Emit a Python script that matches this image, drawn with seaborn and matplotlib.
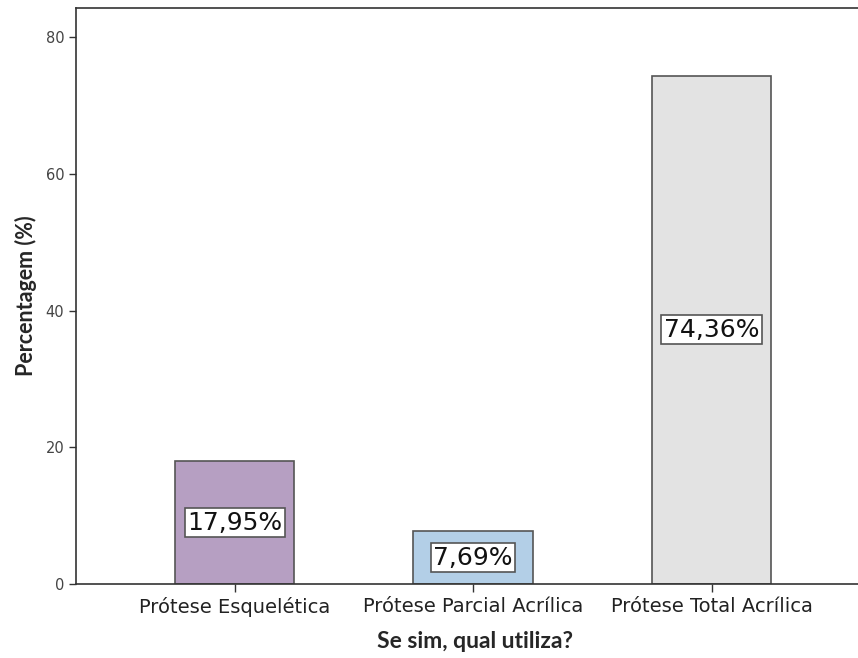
import matplotlib
matplotlib.use("Agg")
import matplotlib.pyplot as plt
import seaborn as sns
import pandas as pd

# Data
categories = ["Prótese Esquelética", "Prótese Parcial Acrílica", "Prótese Total Acrílica"]
percentages = [17.95, 7.69, 74.36]
value_labels = ["17,95%", "7,69%", "74,36%"]
bar_colors = ["#B899C8", "#AAD0F0", "#E3E3E3"]
y_ticks = [0, 20, 40, 60, 80]

sns.set_style("white")
plt.rcParams["font.family"] = ["DejaVu Sans"]

df = pd.DataFrame({"categoria": categories, "percentagem": percentages})

fig = plt.figure(figsize=(8.58, 6.58), dpi=100)
ax = fig.add_axes([0.0886, 0.1125, 0.93, 0.8754])

sns.barplot(
    data=df, x="categoria", y="percentagem", hue="categoria",
    palette=bar_colors, width=0.5, edgecolor="#555555", linewidth=1.2,
    legend=False, ax=ax,
)

# value labels in white boxes at mid-height of each bar
for i, (val, lab) in enumerate(zip(percentages, value_labels)):
    ax.text(i, val / 2, lab, ha="center", va="center", fontsize=18, color="#111111",
            bbox=dict(boxstyle="square,pad=0.1", facecolor="white", edgecolor="#555555", linewidth=1.2))

ax.set_xlim(-0.665, 2.681)
ax.set_ylim(0, 84.3)
ax.set_yticks(y_ticks)
ax.tick_params(axis="y", direction="out", length=5, width=1, colors="#333333", labelsize=10.5, left=True)
ax.tick_params(axis="x", direction="out", length=6, width=1, colors="#333333", labelsize=14, bottom=True)
for lbl in ax.get_xticklabels():
    lbl.set_color("#222222")
for lbl in ax.get_yticklabels():
    lbl.set_color("#444444")

for side in ["left", "bottom", "top"]:
    ax.spines[side].set_color("#333333")
    ax.spines[side].set_linewidth(1.2)
ax.spines["right"].set_visible(False)

ax.set_xlabel("Se sim, qual utiliza?", labelpad=10, fontsize=16.5, fontweight="bold",
              family=["Lato", "DejaVu Sans"])
ax.set_ylabel("Percentagem (%)", labelpad=6, fontsize=15.5, fontweight="bold",
              family=["Lato", "DejaVu Sans"])

fig.savefig("out.png", dpi=100)
